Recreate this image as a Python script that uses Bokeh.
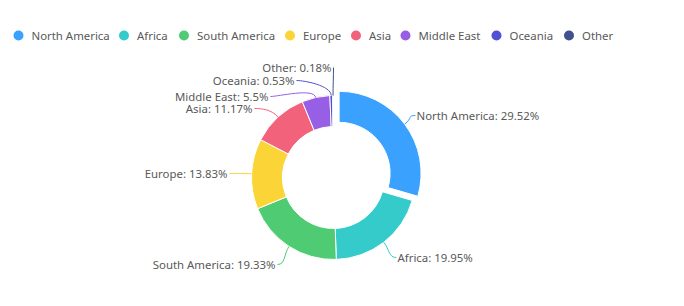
import math
from bokeh.plotting import figure
from bokeh.models import Range1d, ColumnDataSource
from bokeh.core.properties import value
from bokeh.embed import file_html
from bokeh.resources import INLINE

# ---- data ----
regions = ["North America", "Africa", "South America", "Europe", "Asia",
           "Middle East", "Oceania", "Other"]
shares = [29.52, 19.95, 19.33, 13.83, 11.17, 5.5, 0.53, 0.18]

# ---- style / layout ----
colors = ["#3AA1FF", "#36CBCB", "#4ECB73", "#FBD437", "#F2637B",
          "#975FE5", "#5051D5", "#41508F"]
W, H = 684, 306
CX, CY = 333, 177          # pixel centre of the donut
R_OUT, R_IN = 82, 51
explode = [7, 0, 0, 0, 0, 0, 0, 0]
# label anchor points (pixels), set after overlap avoidance like the original
label_xy = [(415, 115), (396, 257), (277, 264), (229, 173),
            (254, 108), (270, 96), (296, 80), (333, 67)]
legend_x = [18, 123.5, 183.5, 289.5, 355.5, 405, 496, 568.5]
LEGEND_Y = 35
FONT = "Noto Sans"
FONT_SIZE = "11.4px"
TEXT_COLOR = "#595959"


def Y(py):
    return H - py


p = figure(width=W, height=H, output_backend="svg", toolbar_location=None,
           x_range=Range1d(0, W), y_range=Range1d(0, H), min_border=0)
p.axis.visible = False
p.grid.visible = False
p.outline_line_color = None
p.background_fill_color = "white"

total = sum(shares)
cum = 0.0
xs, ys, starts, ends = [], [], [], []
mids = []
for v, ex in zip(shares, explode):
    t1 = cum / total * 2 * math.pi       # clockwise from top
    cum += v
    t2 = cum / total * 2 * math.pi
    tm = (t1 + t2) / 2
    mids.append(tm)
    xs.append(CX + ex * math.sin(tm))
    ys.append(Y(CY) + ex * math.cos(tm))
    starts.append(math.pi / 2 - t2)
    ends.append(math.pi / 2 - t1)

src = ColumnDataSource(dict(x=xs, y=ys, start=starts, end=ends, color=colors))
p.annular_wedge(x="x", y="y", inner_radius=R_IN, outer_radius=R_OUT,
                start_angle="start", end_angle="end", direction="anticlock",
                fill_color="color", line_color="white", line_width=1,
                source=src)

# leader lines and labels
for i, (name, v) in enumerate(zip(regions, shares)):
    tm = mids[i]
    sx = xs[i] + R_OUT * math.sin(tm)
    sy = ys[i] + R_OUT * math.cos(tm)
    ax, ay = label_xy[i]
    ay = Y(ay)
    right_side = math.sin(tm) > 0.05
    # control points: radial out from slice, horizontal from label
    c1x = sx + 10 * math.sin(tm)
    c1y = sy + 10 * math.cos(tm)
    if i == len(regions) - 1:
        c1x, c1y = sx, sy + 10
        c2x, c2y = ax, ay - 10
    else:
        c2x = ax + (-8 if right_side else 8)
        c2y = ay
    p.bezier(x0=sx, y0=sy, x1=ax, y1=ay, cx0=c1x, cy0=c1y, cx1=c2x, cy1=c2y,
             line_color=colors[i], line_width=1)
    label = f"{name}: {v:g}%"
    if right_side:
        p.text(x=[ax + 1], y=[ay], text=[label], text_align="left",
               text_baseline="middle", text_font=value(FONT),
               text_font_size=FONT_SIZE, text_color=TEXT_COLOR)
    else:
        p.text(x=[ax - 2], y=[ay], text=[label], text_align="right",
               text_baseline="middle", text_font=value(FONT),
               text_font_size=FONT_SIZE, text_color=TEXT_COLOR)

# legend
p.scatter(x=legend_x, y=[Y(LEGEND_Y)] * len(regions), size=10,
          marker="circle", fill_color=colors, line_color=None)
p.text(x=[lx + 13 for lx in legend_x], y=[Y(LEGEND_Y)] * len(regions),
       text=regions, text_align="left", text_baseline="middle",
       text_font=value(FONT), text_font_size=FONT_SIZE, text_color=TEXT_COLOR)

open("out.html", "w").write(file_html(p, INLINE))
